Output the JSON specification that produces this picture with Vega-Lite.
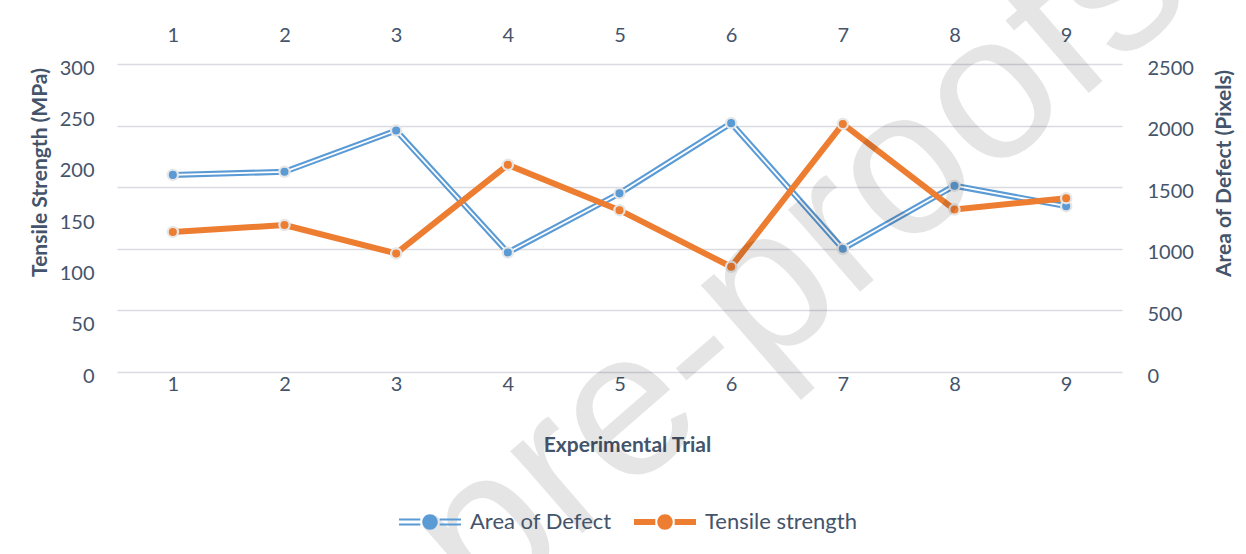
{
  "$schema": "https://vega.github.io/schema/vega-lite/v6.json",
  "width": 1005,
  "height": 308,
  "autosize": {"type": "none"},
  "padding": {"left": 117, "top": 64, "right": 124, "bottom": 182},
  "background": "white",
  "config": {
    "view": {"stroke": null},
    "font": "Lato",
    "axis": {
      "labelFont": "Lato", "labelFontSize": 20, "labelColor": "#44546A",
      "titleFont": "Lato", "titleFontSize": 21, "titleFontWeight": "bold", "titleColor": "#44546A",
      "domain": false, "ticks": false, "tickSize": 0,
      "gridColor": "#D9DCE1", "gridWidth": 1.4
    }
  },
  "data": {
    "values": [
      {"trial": "1", "series": "Area of Defect", "value": 1600},
      {"trial": "2", "series": "Area of Defect", "value": 1625},
      {"trial": "3", "series": "Area of Defect", "value": 1960},
      {"trial": "4", "series": "Area of Defect", "value": 970},
      {"trial": "5", "series": "Area of Defect", "value": 1450},
      {"trial": "6", "series": "Area of Defect", "value": 2020},
      {"trial": "7", "series": "Area of Defect", "value": 1000},
      {"trial": "8", "series": "Area of Defect", "value": 1512},
      {"trial": "9", "series": "Area of Defect", "value": 1346},
      {"trial": "1", "series": "Tensile strength", "value": 136.4},
      {"trial": "2", "series": "Tensile strength", "value": 143.2},
      {"trial": "3", "series": "Tensile strength", "value": 115.5},
      {"trial": "4", "series": "Tensile strength", "value": 201.8},
      {"trial": "5", "series": "Tensile strength", "value": 157.6},
      {"trial": "6", "series": "Tensile strength", "value": 102.5},
      {"trial": "7", "series": "Tensile strength", "value": 241.6},
      {"trial": "8", "series": "Tensile strength", "value": 158.2},
      {"trial": "9", "series": "Tensile strength", "value": 169.3}
    ]
  },
  "layer": [
    {
      "encoding": {
        "x": {"field": "trial", "type": "ordinal", "scale": {"type": "point", "padding": 0.5},
              "axis": {"orient": "top", "title": null, "labelPadding": 19, "labelAngle": 0}},
        "y": {"field": "value", "type": "quantitative", "scale": {"domain": [0, 2500]},
              "axis": {"orient": "right", "values": [0, 500, 1000, 1500, 2000, 2500], "format": "d", "grid": true,
                       "title": "Area of Defect (Pixels)", "titleAngle": -90, "titleX": 102, "titleY": 109,
                       "titleBaseline": "middle", "titleAlign": "center", "labelPadding": 25, "labelOffset": 4}}
      },
      "layer": [
        {"transform": [{"filter": "datum.series === 'Area of Defect'"}],
         "mark": {"type": "line", "color": "#5B9BD5", "strokeWidth": 6, "strokeJoin": "round"}},
        {"transform": [{"filter": "datum.series === 'Area of Defect'"}],
         "mark": {"type": "line", "color": "#FFFFFF", "strokeWidth": 1.8, "strokeJoin": "round"}},
        {"transform": [{"filter": "datum.series === 'Area of Defect'"}],
         "mark": {"type": "point", "filled": true, "fill": "#5B9BD5", "stroke": "#E6E6E6", "strokeWidth": 2.2, "size": 105, "opacity": 1}}
      ]
    },
    {
      "encoding": {
        "x": {"field": "trial", "type": "ordinal", "scale": {"type": "point", "padding": 0.5},
              "axis": {"orient": "bottom", "title": "Experimental Trial", "labelPadding": 2, "labelAngle": 0,
                       "titleX": 510, "titleY": 73, "titleBaseline": "middle", "titleAlign": "center"}},
        "y": {"field": "value", "type": "quantitative", "scale": {"domain": [0, 300]},
              "axis": {"orient": "left", "values": [0, 50, 100, 150, 200, 250, 300], "grid": false,
                       "title": "Tensile Strength (MPa)", "titleAngle": -90, "titleX": -77, "titleY": 108,
                       "titleBaseline": "middle", "titleAlign": "center", "labelPadding": 23, "labelOffset": 4}}
      },
      "layer": [
        {"transform": [{"filter": "datum.series === 'Tensile strength'"}],
         "mark": {"type": "line", "color": "#ED7D31", "strokeWidth": 6, "strokeJoin": "round"}},
        {"transform": [{"filter": "datum.series === 'Tensile strength'"}],
         "mark": {"type": "point", "filled": true, "fill": "#ED7D31", "stroke": "#E6E6E6", "strokeWidth": 2.2, "size": 105, "opacity": 1}},
        {
          "transform": [{"filter": "datum.value < 0"}],
          "mark": {"type": "point", "filled": true, "size": 240, "opacity": 1},
          "encoding": {
            "color": {"field": "series", "type": "nominal",
                      "scale": {"domain": ["Area of Defect", "Tensile strength"], "range": ["#5B9BD5", "#ED7D31"]},
                      "legend": {"orient": "none", "direction": "horizontal", "legendX": 279, "legendY": 447, "title": null,
                                 "labelFont": "Lato", "labelFontSize": 22, "labelColor": "#44546A",
                                 "symbolSize": 240, "symbolOffset": 23, "labelOffset": 29, "columnPadding": 19,
                                 "symbolStrokeWidth": 0, "symbolOpacity": 1}},
            "shape": {"field": "series", "type": "nominal",
                      "scale": {"domain": ["Area of Defect", "Tensile strength"],
                                "range": ["M-4,-0.44H-1.25V-0.2H-4Z M1.25,-0.44H4V-0.2H1.25Z M-4,0.2H-1.25V0.44H-4Z M1.25,0.2H4V0.44H1.25Z M0,-1A1,1 0 1,1 0,1A1,1 0 1,1 0,-1Z",
                                          "M-4,-0.39H-1.25V0.39H-4Z M1.25,-0.39H4V0.39H1.25Z M0,-1A1,1 0 1,1 0,1A1,1 0 1,1 0,-1Z"]},
                      "legend": {"orient": "none", "direction": "horizontal", "legendX": 279, "legendY": 447, "title": null,
                                 "labelFont": "Lato", "labelFontSize": 22, "labelColor": "#44546A",
                                 "symbolSize": 240, "symbolOffset": 23, "labelOffset": 29, "columnPadding": 19,
                                 "symbolStrokeWidth": 0, "symbolOpacity": 1}}
          }
        }
      ]
    },
    {
      "data": {"values": [{"id": 1}]},
      "mark": {"type": "text", "font": "Liberation Sans", "fontSize": 207, "angle": -41, "align": "center", "baseline": "middle",
               "fill": "#000000", "fillOpacity": 0.1, "dx": 91, "text": "pre-proofs"},
      "encoding": {
        "x": {"datum": "6", "type": "ordinal", "axis": null},
        "y": {"datum": 49, "type": "quantitative", "scale": {"domain": [0, 300]}, "axis": null}
      }
    }
  ],
  "resolve": {"scale": {"y": "independent"}, "axis": {"x": "independent"}}
}
